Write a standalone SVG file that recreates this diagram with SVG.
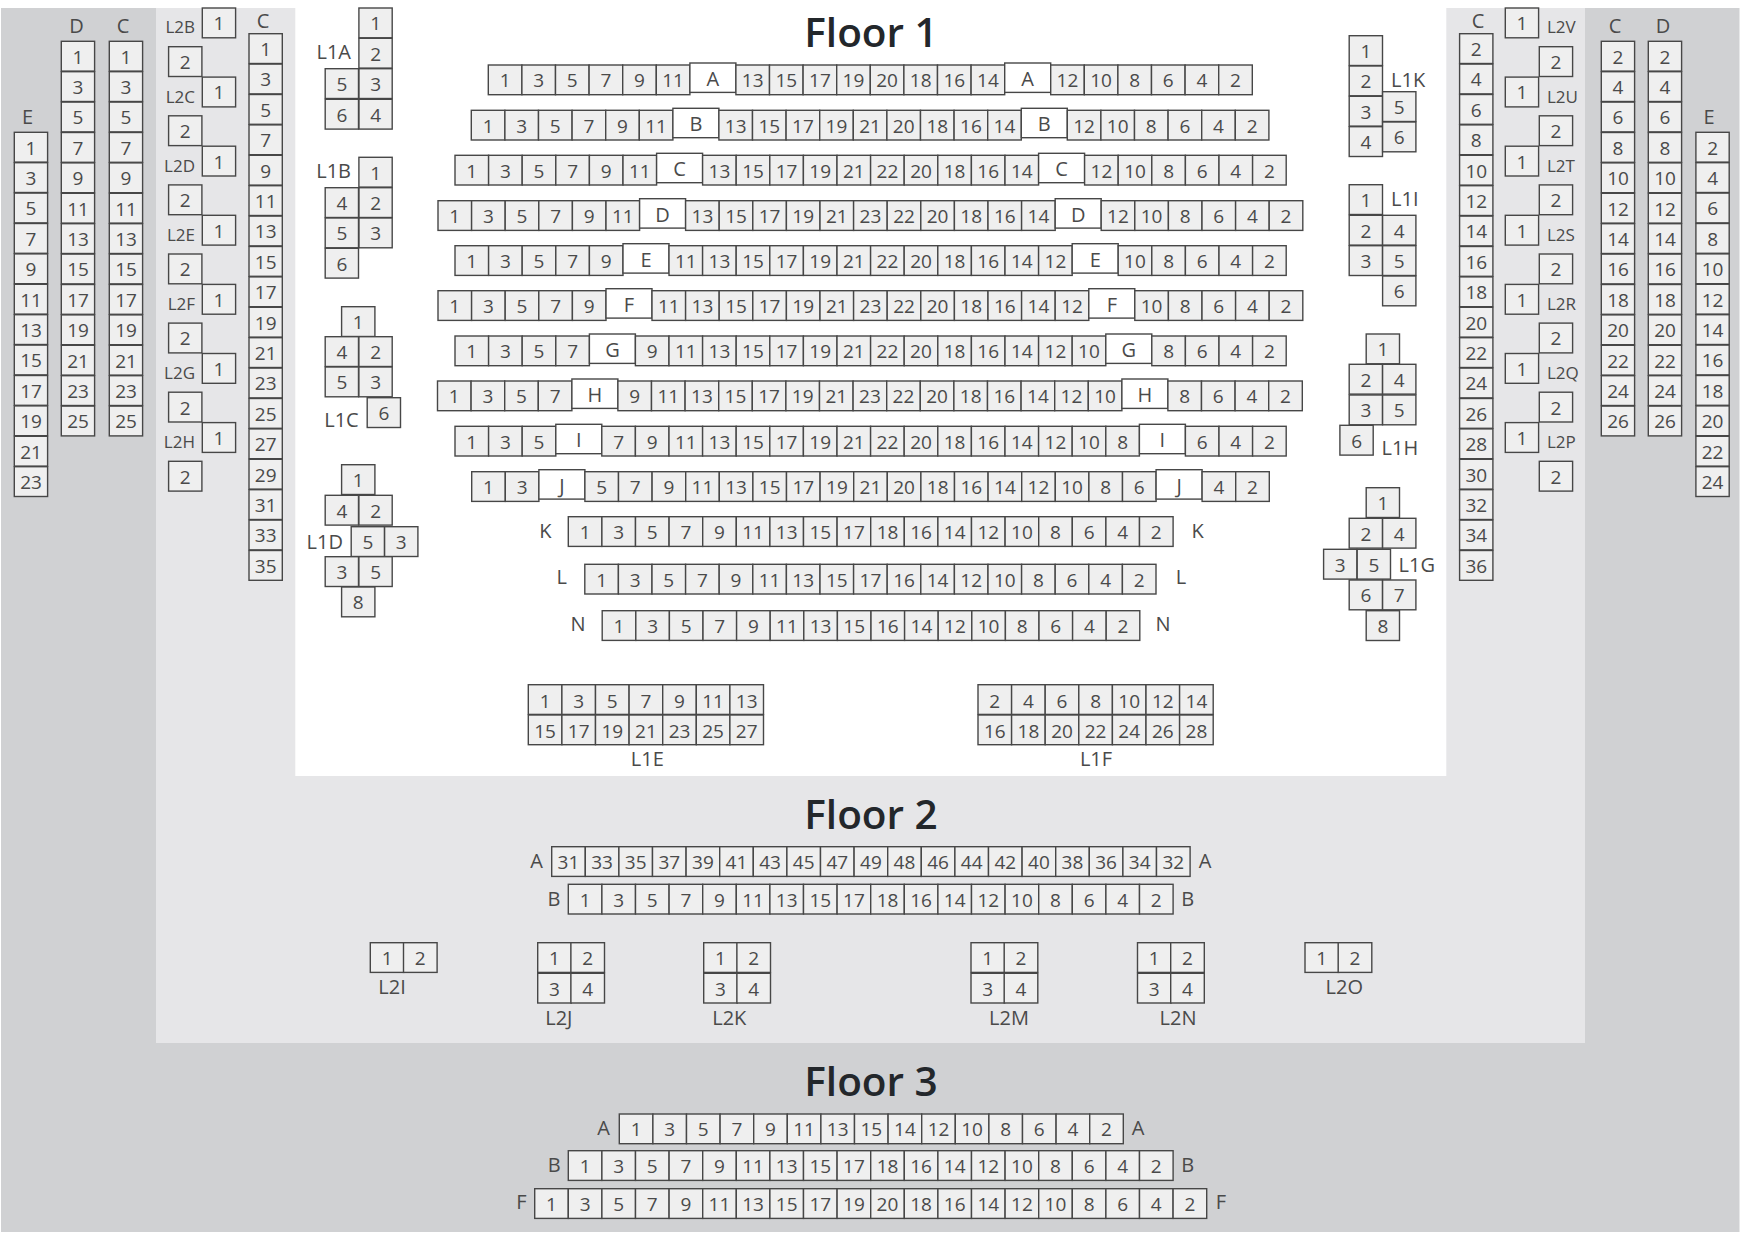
<svg xmlns="http://www.w3.org/2000/svg" width="1740" height="1234" viewBox="0 0 1740 1234">
<style>
text{font-family:"Open Sans","Noto Sans",sans-serif;font-size:19px;fill:#4a4a4a;text-anchor:middle}
.seat{fill:#efefef;stroke:#474747;stroke-width:1.4}
.m{fill:#fff;stroke:#474747;stroke-width:1.4}
.r text{transform:translateY(-1px)}
.r text.l,.r text.a{transform:none}
text.l{font-size:20px}
text.a{text-anchor:start;font-size:20px}
text.e{text-anchor:end;font-size:20px}
text.t{font-size:17px}
text.f{font-size:40.5px;font-weight:600;fill:#23272b}
</style>
<defs>
<rect id="s" class="seat" x="-16.8" y="-23.3" width="33.6" height="29.7"/>
<rect id="v" class="seat" x="-16.7" y="-22.3" width="33.3" height="29.8"/>
</defs>
<rect width="1740" height="1234" fill="#fff"/>
<rect x="1" y="8" width="1738.5" height="1224" fill="#d0d1d3"/>
<rect x="156" y="8" width="1429" height="1035" fill="#e6e6e8"/>
<rect x="295.3" y="0" width="1151" height="776" fill="#fff"/>
<text class="f" x="871" y="47">Floor 1</text>
<text class="f" x="871" y="829">Floor 2</text>
<text class="f" x="871" y="1096">Floor 3</text>

<g id="f1-row-A" class="r" transform="translate(488.3,88.3)"><use href="#s" x="16.8"/><text x="16.8">1</text><use href="#s" x="50.4"/><text x="50.4">3</text><use href="#s" x="84"/><text x="84">5</text><use href="#s" x="117.6"/><text x="117.6">7</text><use href="#s" x="151.2"/><text x="151.2">9</text><use href="#s" x="184.8"/><text x="184.8">11</text><rect class="m" x="201.6" y="-25.3" width="46" height="29.4"/><text class="l" x="224.6" y="-2.3">A</text>
<g transform="translate(247.6)"><use href="#s" x="16.8"/><text x="16.8">13</text><use href="#s" x="50.4"/><text x="50.4">15</text><use href="#s" x="84"/><text x="84">17</text><use href="#s" x="117.6"/><text x="117.6">19</text><use href="#s" x="151.2"/><text x="151.2">20</text><use href="#s" x="184.8"/><text x="184.8">18</text><use href="#s" x="218.4"/><text x="218.4">16</text><use href="#s" x="252"/><text x="252">14</text><rect class="m" x="268.8" y="-25.3" width="46" height="29.4"/><text class="l" x="291.8" y="-2.3">A</text>
<g transform="translate(314.8)"><use href="#s" x="16.8"/><text x="16.8">12</text><use href="#s" x="50.4"/><text x="50.4">10</text><use href="#s" x="84"/><text x="84">8</text><use href="#s" x="117.6"/><text x="117.6">6</text><use href="#s" x="151.2"/><text x="151.2">4</text><use href="#s" x="184.8"/><text x="184.8">2</text></g></g></g>

<g id="f1-row-B" class="r" transform="translate(471.3,133.6)"><use href="#s" x="16.8"/><text x="16.8">1</text><use href="#s" x="50.4"/><text x="50.4">3</text><use href="#s" x="84"/><text x="84">5</text><use href="#s" x="117.6"/><text x="117.6">7</text><use href="#s" x="151.2"/><text x="151.2">9</text><use href="#s" x="184.8"/><text x="184.8">11</text><rect class="m" x="201.6" y="-25.3" width="46" height="29.4"/><text class="l" x="224.6" y="-2.3">B</text>
<g transform="translate(247.6)"><use href="#s" x="16.8"/><text x="16.8">13</text><use href="#s" x="50.4"/><text x="50.4">15</text><use href="#s" x="84"/><text x="84">17</text><use href="#s" x="117.6"/><text x="117.6">19</text><use href="#s" x="151.2"/><text x="151.2">21</text><use href="#s" x="184.8"/><text x="184.8">20</text><use href="#s" x="218.4"/><text x="218.4">18</text><use href="#s" x="252"/><text x="252">16</text><use href="#s" x="285.6"/><text x="285.6">14</text><rect class="m" x="302.4" y="-25.3" width="46" height="29.4"/><text class="l" x="325.4" y="-2.3">B</text>
<g transform="translate(348.4)"><use href="#s" x="16.8"/><text x="16.8">12</text><use href="#s" x="50.4"/><text x="50.4">10</text><use href="#s" x="84"/><text x="84">8</text><use href="#s" x="117.6"/><text x="117.6">6</text><use href="#s" x="151.2"/><text x="151.2">4</text><use href="#s" x="184.8"/><text x="184.8">2</text></g></g></g>

<g id="f1-row-C" class="r" transform="translate(455,178.6)"><use href="#s" x="16.8"/><text x="16.8">1</text><use href="#s" x="50.4"/><text x="50.4">3</text><use href="#s" x="84"/><text x="84">5</text><use href="#s" x="117.6"/><text x="117.6">7</text><use href="#s" x="151.2"/><text x="151.2">9</text><use href="#s" x="184.8"/><text x="184.8">11</text><rect class="m" x="201.6" y="-25.3" width="46" height="29.4"/><text class="l" x="224.6" y="-2.3">C</text>
<g transform="translate(247.6)"><use href="#s" x="16.8"/><text x="16.8">13</text><use href="#s" x="50.4"/><text x="50.4">15</text><use href="#s" x="84"/><text x="84">17</text><use href="#s" x="117.6"/><text x="117.6">19</text><use href="#s" x="151.2"/><text x="151.2">21</text><use href="#s" x="184.8"/><text x="184.8">22</text><use href="#s" x="218.4"/><text x="218.4">20</text><use href="#s" x="252"/><text x="252">18</text><use href="#s" x="285.6"/><text x="285.6">16</text><use href="#s" x="319.2"/><text x="319.2">14</text><rect class="m" x="336" y="-25.3" width="46" height="29.4"/><text class="l" x="359" y="-2.3">C</text>
<g transform="translate(382)"><use href="#s" x="16.8"/><text x="16.8">12</text><use href="#s" x="50.4"/><text x="50.4">10</text><use href="#s" x="84"/><text x="84">8</text><use href="#s" x="117.6"/><text x="117.6">6</text><use href="#s" x="151.2"/><text x="151.2">4</text><use href="#s" x="184.8"/><text x="184.8">2</text></g></g></g>

<g id="f1-row-D" class="r" transform="translate(438,224)"><use href="#s" x="16.8"/><text x="16.8">1</text><use href="#s" x="50.4"/><text x="50.4">3</text><use href="#s" x="84"/><text x="84">5</text><use href="#s" x="117.6"/><text x="117.6">7</text><use href="#s" x="151.2"/><text x="151.2">9</text><use href="#s" x="184.8"/><text x="184.8">11</text><rect class="m" x="201.6" y="-25.3" width="46" height="29.4"/><text class="l" x="224.6" y="-2.3">D</text>
<g transform="translate(247.6)"><use href="#s" x="16.8"/><text x="16.8">13</text><use href="#s" x="50.4"/><text x="50.4">15</text><use href="#s" x="84"/><text x="84">17</text><use href="#s" x="117.6"/><text x="117.6">19</text><use href="#s" x="151.2"/><text x="151.2">21</text><use href="#s" x="184.8"/><text x="184.8">23</text><use href="#s" x="218.4"/><text x="218.4">22</text><use href="#s" x="252"/><text x="252">20</text><use href="#s" x="285.6"/><text x="285.6">18</text><use href="#s" x="319.2"/><text x="319.2">16</text><use href="#s" x="352.8"/><text x="352.8">14</text><rect class="m" x="369.6" y="-25.3" width="46" height="29.4"/><text class="l" x="392.6" y="-2.3">D</text>
<g transform="translate(415.6)"><use href="#s" x="16.8"/><text x="16.8">12</text><use href="#s" x="50.4"/><text x="50.4">10</text><use href="#s" x="84"/><text x="84">8</text><use href="#s" x="117.6"/><text x="117.6">6</text><use href="#s" x="151.2"/><text x="151.2">4</text><use href="#s" x="184.8"/><text x="184.8">2</text></g></g></g>

<g id="f1-row-E" class="r" transform="translate(455,269)"><use href="#s" x="16.8"/><text x="16.8">1</text><use href="#s" x="50.4"/><text x="50.4">3</text><use href="#s" x="84"/><text x="84">5</text><use href="#s" x="117.6"/><text x="117.6">7</text><use href="#s" x="151.2"/><text x="151.2">9</text><rect class="m" x="168" y="-25.3" width="46" height="29.4"/><text class="l" x="191" y="-2.3">E</text>
<g transform="translate(214)"><use href="#s" x="16.8"/><text x="16.8">11</text><use href="#s" x="50.4"/><text x="50.4">13</text><use href="#s" x="84"/><text x="84">15</text><use href="#s" x="117.6"/><text x="117.6">17</text><use href="#s" x="151.2"/><text x="151.2">19</text><use href="#s" x="184.8"/><text x="184.8">21</text><use href="#s" x="218.4"/><text x="218.4">22</text><use href="#s" x="252"/><text x="252">20</text><use href="#s" x="285.6"/><text x="285.6">18</text><use href="#s" x="319.2"/><text x="319.2">16</text><use href="#s" x="352.8"/><text x="352.8">14</text><use href="#s" x="386.4"/><text x="386.4">12</text><rect class="m" x="403.2" y="-25.3" width="46" height="29.4"/><text class="l" x="426.2" y="-2.3">E</text>
<g transform="translate(449.2)"><use href="#s" x="16.8"/><text x="16.8">10</text><use href="#s" x="50.4"/><text x="50.4">8</text><use href="#s" x="84"/><text x="84">6</text><use href="#s" x="117.6"/><text x="117.6">4</text><use href="#s" x="151.2"/><text x="151.2">2</text></g></g></g>

<g id="f1-row-F" class="r" transform="translate(438,314)"><use href="#s" x="16.8"/><text x="16.8">1</text><use href="#s" x="50.4"/><text x="50.4">3</text><use href="#s" x="84"/><text x="84">5</text><use href="#s" x="117.6"/><text x="117.6">7</text><use href="#s" x="151.2"/><text x="151.2">9</text><rect class="m" x="168" y="-25.3" width="46" height="29.4"/><text class="l" x="191" y="-2.3">F</text>
<g transform="translate(214)"><use href="#s" x="16.8"/><text x="16.8">11</text><use href="#s" x="50.4"/><text x="50.4">13</text><use href="#s" x="84"/><text x="84">15</text><use href="#s" x="117.6"/><text x="117.6">17</text><use href="#s" x="151.2"/><text x="151.2">19</text><use href="#s" x="184.8"/><text x="184.8">21</text><use href="#s" x="218.4"/><text x="218.4">23</text><use href="#s" x="252"/><text x="252">22</text><use href="#s" x="285.6"/><text x="285.6">20</text><use href="#s" x="319.2"/><text x="319.2">18</text><use href="#s" x="352.8"/><text x="352.8">16</text><use href="#s" x="386.4"/><text x="386.4">14</text><use href="#s" x="420"/><text x="420">12</text><rect class="m" x="436.8" y="-25.3" width="46" height="29.4"/><text class="l" x="459.8" y="-2.3">F</text>
<g transform="translate(482.8)"><use href="#s" x="16.8"/><text x="16.8">10</text><use href="#s" x="50.4"/><text x="50.4">8</text><use href="#s" x="84"/><text x="84">6</text><use href="#s" x="117.6"/><text x="117.6">4</text><use href="#s" x="151.2"/><text x="151.2">2</text></g></g></g>

<g id="f1-row-G" class="r" transform="translate(455,359.3)"><use href="#s" x="16.8"/><text x="16.8">1</text><use href="#s" x="50.4"/><text x="50.4">3</text><use href="#s" x="84"/><text x="84">5</text><use href="#s" x="117.6"/><text x="117.6">7</text><rect class="m" x="134.4" y="-25.3" width="46" height="29.4"/><text class="l" x="157.4" y="-2.3">G</text>
<g transform="translate(180.4)"><use href="#s" x="16.8"/><text x="16.8">9</text><use href="#s" x="50.4"/><text x="50.4">11</text><use href="#s" x="84"/><text x="84">13</text><use href="#s" x="117.6"/><text x="117.6">15</text><use href="#s" x="151.2"/><text x="151.2">17</text><use href="#s" x="184.8"/><text x="184.8">19</text><use href="#s" x="218.4"/><text x="218.4">21</text><use href="#s" x="252"/><text x="252">22</text><use href="#s" x="285.6"/><text x="285.6">20</text><use href="#s" x="319.2"/><text x="319.2">18</text><use href="#s" x="352.8"/><text x="352.8">16</text><use href="#s" x="386.4"/><text x="386.4">14</text><use href="#s" x="420"/><text x="420">12</text><use href="#s" x="453.6"/><text x="453.6">10</text><rect class="m" x="470.4" y="-25.3" width="46" height="29.4"/><text class="l" x="493.4" y="-2.3">G</text>
<g transform="translate(516.4)"><use href="#s" x="16.8"/><text x="16.8">8</text><use href="#s" x="50.4"/><text x="50.4">6</text><use href="#s" x="84"/><text x="84">4</text><use href="#s" x="117.6"/><text x="117.6">2</text></g></g></g>

<g id="f1-row-H" class="r" transform="translate(437.5,404.3)"><use href="#s" x="16.8"/><text x="16.8">1</text><use href="#s" x="50.4"/><text x="50.4">3</text><use href="#s" x="84"/><text x="84">5</text><use href="#s" x="117.6"/><text x="117.6">7</text><rect class="m" x="134.4" y="-25.3" width="46" height="29.4"/><text class="l" x="157.4" y="-2.3">H</text>
<g transform="translate(180.4)"><use href="#s" x="16.8"/><text x="16.8">9</text><use href="#s" x="50.4"/><text x="50.4">11</text><use href="#s" x="84"/><text x="84">13</text><use href="#s" x="117.6"/><text x="117.6">15</text><use href="#s" x="151.2"/><text x="151.2">17</text><use href="#s" x="184.8"/><text x="184.8">19</text><use href="#s" x="218.4"/><text x="218.4">21</text><use href="#s" x="252"/><text x="252">23</text><use href="#s" x="285.6"/><text x="285.6">22</text><use href="#s" x="319.2"/><text x="319.2">20</text><use href="#s" x="352.8"/><text x="352.8">18</text><use href="#s" x="386.4"/><text x="386.4">16</text><use href="#s" x="420"/><text x="420">14</text><use href="#s" x="453.6"/><text x="453.6">12</text><use href="#s" x="487.2"/><text x="487.2">10</text><rect class="m" x="504" y="-25.3" width="46" height="29.4"/><text class="l" x="527" y="-2.3">H</text>
<g transform="translate(550)"><use href="#s" x="16.8"/><text x="16.8">8</text><use href="#s" x="50.4"/><text x="50.4">6</text><use href="#s" x="84"/><text x="84">4</text><use href="#s" x="117.6"/><text x="117.6">2</text></g></g></g>

<g id="f1-row-I" class="r" transform="translate(455,449.6)"><use href="#s" x="16.8"/><text x="16.8">1</text><use href="#s" x="50.4"/><text x="50.4">3</text><use href="#s" x="84"/><text x="84">5</text><rect class="m" x="100.8" y="-25.3" width="46" height="29.4"/><text class="l" x="123.8" y="-2.3">I</text>
<g transform="translate(146.8)"><use href="#s" x="16.8"/><text x="16.8">7</text><use href="#s" x="50.4"/><text x="50.4">9</text><use href="#s" x="84"/><text x="84">11</text><use href="#s" x="117.6"/><text x="117.6">13</text><use href="#s" x="151.2"/><text x="151.2">15</text><use href="#s" x="184.8"/><text x="184.8">17</text><use href="#s" x="218.4"/><text x="218.4">19</text><use href="#s" x="252"/><text x="252">21</text><use href="#s" x="285.6"/><text x="285.6">22</text><use href="#s" x="319.2"/><text x="319.2">20</text><use href="#s" x="352.8"/><text x="352.8">18</text><use href="#s" x="386.4"/><text x="386.4">16</text><use href="#s" x="420"/><text x="420">14</text><use href="#s" x="453.6"/><text x="453.6">12</text><use href="#s" x="487.2"/><text x="487.2">10</text><use href="#s" x="520.8"/><text x="520.8">8</text><rect class="m" x="537.6" y="-25.3" width="46" height="29.4"/><text class="l" x="560.6" y="-2.3">I</text>
<g transform="translate(583.6)"><use href="#s" x="16.8"/><text x="16.8">6</text><use href="#s" x="50.4"/><text x="50.4">4</text><use href="#s" x="84"/><text x="84">2</text></g></g></g>

<g id="f1-row-J" class="r" transform="translate(471.7,495)"><use href="#s" x="16.8"/><text x="16.8">1</text><use href="#s" x="50.4"/><text x="50.4">3</text><rect class="m" x="67.2" y="-25.3" width="46" height="29.4"/><text class="l" x="90.2" y="-2.3">J</text>
<g transform="translate(113.2)"><use href="#s" x="16.8"/><text x="16.8">5</text><use href="#s" x="50.4"/><text x="50.4">7</text><use href="#s" x="84"/><text x="84">9</text><use href="#s" x="117.6"/><text x="117.6">11</text><use href="#s" x="151.2"/><text x="151.2">13</text><use href="#s" x="184.8"/><text x="184.8">15</text><use href="#s" x="218.4"/><text x="218.4">17</text><use href="#s" x="252"/><text x="252">19</text><use href="#s" x="285.6"/><text x="285.6">21</text><use href="#s" x="319.2"/><text x="319.2">20</text><use href="#s" x="352.8"/><text x="352.8">18</text><use href="#s" x="386.4"/><text x="386.4">16</text><use href="#s" x="420"/><text x="420">14</text><use href="#s" x="453.6"/><text x="453.6">12</text><use href="#s" x="487.2"/><text x="487.2">10</text><use href="#s" x="520.8"/><text x="520.8">8</text><use href="#s" x="554.4"/><text x="554.4">6</text><rect class="m" x="571.2" y="-25.3" width="46" height="29.4"/><text class="l" x="594.2" y="-2.3">J</text>
<g transform="translate(617.2)"><use href="#s" x="16.8"/><text x="16.8">4</text><use href="#s" x="50.4"/><text x="50.4">2</text></g></g></g>

<g id="f1-row-K" class="r" transform="translate(568.3,540)"><use href="#s" x="16.8"/><text x="16.8">1</text><use href="#s" x="50.4"/><text x="50.4">3</text><use href="#s" x="84"/><text x="84">5</text><use href="#s" x="117.6"/><text x="117.6">7</text><use href="#s" x="151.2"/><text x="151.2">9</text><use href="#s" x="184.8"/><text x="184.8">11</text><use href="#s" x="218.4"/><text x="218.4">13</text><use href="#s" x="252"/><text x="252">15</text><use href="#s" x="285.6"/><text x="285.6">17</text><use href="#s" x="319.2"/><text x="319.2">18</text><use href="#s" x="352.8"/><text x="352.8">16</text><use href="#s" x="386.4"/><text x="386.4">14</text><use href="#s" x="420"/><text x="420">12</text><use href="#s" x="453.6"/><text x="453.6">10</text><use href="#s" x="487.2"/><text x="487.2">8</text><use href="#s" x="520.8"/><text x="520.8">6</text><use href="#s" x="554.4"/><text x="554.4">4</text><use href="#s" x="588"/><text x="588">2</text></g>
<text class="l" x="545.3" y="538">K</text><text class="l" x="1197.7" y="538">K</text>

<g id="f1-row-L" class="r" transform="translate(584.8,587.6)"><use href="#s" x="16.8"/><text x="16.8">1</text><use href="#s" x="50.4"/><text x="50.4">3</text><use href="#s" x="84"/><text x="84">5</text><use href="#s" x="117.6"/><text x="117.6">7</text><use href="#s" x="151.2"/><text x="151.2">9</text><use href="#s" x="184.8"/><text x="184.8">11</text><use href="#s" x="218.4"/><text x="218.4">13</text><use href="#s" x="252"/><text x="252">15</text><use href="#s" x="285.6"/><text x="285.6">17</text><use href="#s" x="319.2"/><text x="319.2">16</text><use href="#s" x="352.8"/><text x="352.8">14</text><use href="#s" x="386.4"/><text x="386.4">12</text><use href="#s" x="420"/><text x="420">10</text><use href="#s" x="453.6"/><text x="453.6">8</text><use href="#s" x="487.2"/><text x="487.2">6</text><use href="#s" x="520.8"/><text x="520.8">4</text><use href="#s" x="554.4"/><text x="554.4">2</text></g>
<text class="l" x="561.7" y="584">L</text><text class="l" x="1181" y="584">L</text>

<g id="f1-row-N" class="r" transform="translate(602.2,634)"><use href="#s" x="16.8"/><text x="16.8">1</text><use href="#s" x="50.4"/><text x="50.4">3</text><use href="#s" x="84"/><text x="84">5</text><use href="#s" x="117.6"/><text x="117.6">7</text><use href="#s" x="151.2"/><text x="151.2">9</text><use href="#s" x="184.8"/><text x="184.8">11</text><use href="#s" x="218.4"/><text x="218.4">13</text><use href="#s" x="252"/><text x="252">15</text><use href="#s" x="285.6"/><text x="285.6">16</text><use href="#s" x="319.2"/><text x="319.2">14</text><use href="#s" x="352.8"/><text x="352.8">12</text><use href="#s" x="386.4"/><text x="386.4">10</text><use href="#s" x="420"/><text x="420">8</text><use href="#s" x="453.6"/><text x="453.6">6</text><use href="#s" x="487.2"/><text x="487.2">4</text><use href="#s" x="520.8"/><text x="520.8">2</text></g>
<text class="l" x="578" y="631">N</text><text class="l" x="1163" y="631">N</text>

<g id="L1E"><g transform="translate(528.3,708)"><use href="#s" x="16.8"/><text x="16.8">1</text><use href="#s" x="50.4"/><text x="50.4">3</text><use href="#s" x="84"/><text x="84">5</text><use href="#s" x="117.6"/><text x="117.6">7</text><use href="#s" x="151.2"/><text x="151.2">9</text><use href="#s" x="184.8"/><text x="184.8">11</text><use href="#s" x="218.4"/><text x="218.4">13</text></g>
<g transform="translate(528.3,738.3)"><use href="#s" x="16.8"/><text x="16.8">15</text><use href="#s" x="50.4"/><text x="50.4">17</text><use href="#s" x="84"/><text x="84">19</text><use href="#s" x="117.6"/><text x="117.6">21</text><use href="#s" x="151.2"/><text x="151.2">23</text><use href="#s" x="184.8"/><text x="184.8">25</text><use href="#s" x="218.4"/><text x="218.4">27</text></g>
<text class="l" x="647.3" y="766">L1E</text></g>
<g id="L1F"><g transform="translate(978,708)"><use href="#s" x="16.8"/><text x="16.8">2</text><use href="#s" x="50.4"/><text x="50.4">4</text><use href="#s" x="84"/><text x="84">6</text><use href="#s" x="117.6"/><text x="117.6">8</text><use href="#s" x="151.2"/><text x="151.2">10</text><use href="#s" x="184.8"/><text x="184.8">12</text><use href="#s" x="218.4"/><text x="218.4">14</text></g>
<g transform="translate(978,738.3)"><use href="#s" x="16.8"/><text x="16.8">16</text><use href="#s" x="50.4"/><text x="50.4">18</text><use href="#s" x="84"/><text x="84">20</text><use href="#s" x="117.6"/><text x="117.6">22</text><use href="#s" x="151.2"/><text x="151.2">24</text><use href="#s" x="184.8"/><text x="184.8">26</text><use href="#s" x="218.4"/><text x="218.4">28</text></g>
<text class="l" x="1096" y="766">L1F</text></g>

<g id="L3-E-left" transform="translate(31,154.6)"><text class="l" x="-3.5" y="-30.6">E</text><use href="#v"/><text>1</text><use href="#v" y="30.4"/><text y="30.4">3</text><use href="#v" y="60.8"/><text y="60.8">5</text><use href="#v" y="91.2"/><text y="91.2">7</text><use href="#v" y="121.6"/><text y="121.6">9</text><use href="#v" y="152"/><text y="152">11</text><use href="#v" y="182.4"/><text y="182.4">13</text><use href="#v" y="212.8"/><text y="212.8">15</text><use href="#v" y="243.2"/><text y="243.2">17</text><use href="#v" y="273.6"/><text y="273.6">19</text><use href="#v" y="304"/><text y="304">21</text><use href="#v" y="334.4"/><text y="334.4">23</text></g>
<g id="L3-D-left" transform="translate(78,63.6)"><text class="l" x="-1.5" y="-30.6">D</text><use href="#v"/><text>1</text><use href="#v" y="30.4"/><text y="30.4">3</text><use href="#v" y="60.8"/><text y="60.8">5</text><use href="#v" y="91.2"/><text y="91.2">7</text><use href="#v" y="121.6"/><text y="121.6">9</text><use href="#v" y="152"/><text y="152">11</text><use href="#v" y="182.4"/><text y="182.4">13</text><use href="#v" y="212.8"/><text y="212.8">15</text><use href="#v" y="243.2"/><text y="243.2">17</text><use href="#v" y="273.6"/><text y="273.6">19</text><use href="#v" y="304"/><text y="304">21</text><use href="#v" y="334.4"/><text y="334.4">23</text><use href="#v" y="364.8"/><text y="364.8">25</text></g>
<g id="L3-C-left" transform="translate(126,63.6)"><text class="l" x="-3" y="-30.6">C</text><use href="#v"/><text>1</text><use href="#v" y="30.4"/><text y="30.4">3</text><use href="#v" y="60.8"/><text y="60.8">5</text><use href="#v" y="91.2"/><text y="91.2">7</text><use href="#v" y="121.6"/><text y="121.6">9</text><use href="#v" y="152"/><text y="152">11</text><use href="#v" y="182.4"/><text y="182.4">13</text><use href="#v" y="212.8"/><text y="212.8">15</text><use href="#v" y="243.2"/><text y="243.2">17</text><use href="#v" y="273.6"/><text y="273.6">19</text><use href="#v" y="304"/><text y="304">21</text><use href="#v" y="334.4"/><text y="334.4">23</text><use href="#v" y="364.8"/><text y="364.8">25</text></g>
<g id="L2-C-left" transform="translate(265.7,56)"><text class="l" x="-2.7" y="-28">C</text><use href="#v"/><text>1</text><use href="#v" y="30.4"/><text y="30.4">3</text><use href="#v" y="60.8"/><text y="60.8">5</text><use href="#v" y="91.2"/><text y="91.2">7</text><use href="#v" y="121.6"/><text y="121.6">9</text><use href="#v" y="152"/><text y="152">11</text><use href="#v" y="182.4"/><text y="182.4">13</text><use href="#v" y="212.8"/><text y="212.8">15</text><use href="#v" y="243.2"/><text y="243.2">17</text><use href="#v" y="273.6"/><text y="273.6">19</text><use href="#v" y="304"/><text y="304">21</text><use href="#v" y="334.4"/><text y="334.4">23</text><use href="#v" y="364.8"/><text y="364.8">25</text><use href="#v" y="395.2"/><text y="395.2">27</text><use href="#v" y="425.6"/><text y="425.6">29</text><use href="#v" y="456"/><text y="456">31</text><use href="#v" y="486.4"/><text y="486.4">33</text><use href="#v" y="516.8"/><text y="516.8">35</text></g>
<g id="L2-C-right" transform="translate(1476.3,56)"><text class="l" x="1.7" y="-28">C</text><use href="#v"/><text>2</text><use href="#v" y="30.4"/><text y="30.4">4</text><use href="#v" y="60.8"/><text y="60.8">6</text><use href="#v" y="91.2"/><text y="91.2">8</text><use href="#v" y="121.6"/><text y="121.6">10</text><use href="#v" y="152"/><text y="152">12</text><use href="#v" y="182.4"/><text y="182.4">14</text><use href="#v" y="212.8"/><text y="212.8">16</text><use href="#v" y="243.2"/><text y="243.2">18</text><use href="#v" y="273.6"/><text y="273.6">20</text><use href="#v" y="304"/><text y="304">22</text><use href="#v" y="334.4"/><text y="334.4">24</text><use href="#v" y="364.8"/><text y="364.8">26</text><use href="#v" y="395.2"/><text y="395.2">28</text><use href="#v" y="425.6"/><text y="425.6">30</text><use href="#v" y="456"/><text y="456">32</text><use href="#v" y="486.4"/><text y="486.4">34</text><use href="#v" y="516.8"/><text y="516.8">36</text></g>
<g id="L3-C-right" transform="translate(1618,63.6)"><text class="l" x="-3" y="-30.6">C</text><use href="#v"/><text>2</text><use href="#v" y="30.4"/><text y="30.4">4</text><use href="#v" y="60.8"/><text y="60.8">6</text><use href="#v" y="91.2"/><text y="91.2">8</text><use href="#v" y="121.6"/><text y="121.6">10</text><use href="#v" y="152"/><text y="152">12</text><use href="#v" y="182.4"/><text y="182.4">14</text><use href="#v" y="212.8"/><text y="212.8">16</text><use href="#v" y="243.2"/><text y="243.2">18</text><use href="#v" y="273.6"/><text y="273.6">20</text><use href="#v" y="304"/><text y="304">22</text><use href="#v" y="334.4"/><text y="334.4">24</text><use href="#v" y="364.8"/><text y="364.8">26</text></g>
<g id="L3-D-right" transform="translate(1665,63.6)"><text class="l" x="-2" y="-30.6">D</text><use href="#v"/><text>2</text><use href="#v" y="30.4"/><text y="30.4">4</text><use href="#v" y="60.8"/><text y="60.8">6</text><use href="#v" y="91.2"/><text y="91.2">8</text><use href="#v" y="121.6"/><text y="121.6">10</text><use href="#v" y="152"/><text y="152">12</text><use href="#v" y="182.4"/><text y="182.4">14</text><use href="#v" y="212.8"/><text y="212.8">16</text><use href="#v" y="243.2"/><text y="243.2">18</text><use href="#v" y="273.6"/><text y="273.6">20</text><use href="#v" y="304"/><text y="304">22</text><use href="#v" y="334.4"/><text y="334.4">24</text><use href="#v" y="364.8"/><text y="364.8">26</text></g>
<g id="L3-E-right" transform="translate(1712.6,154.6)"><text class="l" x="-3.6" y="-30.6">E</text><use href="#v"/><text>2</text><use href="#v" y="30.4"/><text y="30.4">4</text><use href="#v" y="60.8"/><text y="60.8">6</text><use href="#v" y="91.2"/><text y="91.2">8</text><use href="#v" y="121.6"/><text y="121.6">10</text><use href="#v" y="152"/><text y="152">12</text><use href="#v" y="182.4"/><text y="182.4">14</text><use href="#v" y="212.8"/><text y="212.8">16</text><use href="#v" y="243.2"/><text y="243.2">18</text><use href="#v" y="273.6"/><text y="273.6">20</text><use href="#v" y="304"/><text y="304">22</text><use href="#v" y="334.4"/><text y="334.4">24</text></g>

<g id="L2-left-boxes">
<use href="#v" x="219" y="30.3"/><text x="219" y="30.3">1</text><use href="#v" x="185.3" y="69"/><text x="185.3" y="69">2</text>
<use href="#v" x="219" y="99.4"/><text x="219" y="99.4">1</text><use href="#v" x="185.3" y="138.1"/><text x="185.3" y="138.1">2</text>
<use href="#v" x="219" y="168.5"/><text x="219" y="168.5">1</text><use href="#v" x="185.3" y="207.2"/><text x="185.3" y="207.2">2</text>
<use href="#v" x="219" y="237.6"/><text x="219" y="237.6">1</text><use href="#v" x="185.3" y="276.3"/><text x="185.3" y="276.3">2</text>
<use href="#v" x="219" y="306.7"/><text x="219" y="306.7">1</text><use href="#v" x="185.3" y="345.4"/><text x="185.3" y="345.4">2</text>
<use href="#v" x="219" y="375.8"/><text x="219" y="375.8">1</text><use href="#v" x="185.3" y="414.5"/><text x="185.3" y="414.5">2</text>
<use href="#v" x="219" y="444.9"/><text x="219" y="444.9">1</text><use href="#v" x="185.3" y="483.6"/><text x="185.3" y="483.6">2</text>
<text class="e t" x="195" y="33">L2B</text><text class="e t" x="195" y="103">L2C</text><text class="e t" x="195" y="172">L2D</text><text class="e t" x="195" y="241">L2E</text><text class="e t" x="195" y="310">L2F</text><text class="e t" x="195" y="379">L2G</text><text class="e t" x="195" y="448">L2H</text>
</g>
<g id="L2-right-boxes">
<use href="#v" x="1522" y="30.3"/><text x="1522" y="30.3">1</text><use href="#v" x="1556" y="69"/><text x="1556" y="69">2</text>
<use href="#v" x="1522" y="99.4"/><text x="1522" y="99.4">1</text><use href="#v" x="1556" y="138.1"/><text x="1556" y="138.1">2</text>
<use href="#v" x="1522" y="168.5"/><text x="1522" y="168.5">1</text><use href="#v" x="1556" y="207.2"/><text x="1556" y="207.2">2</text>
<use href="#v" x="1522" y="237.6"/><text x="1522" y="237.6">1</text><use href="#v" x="1556" y="276.3"/><text x="1556" y="276.3">2</text>
<use href="#v" x="1522" y="306.7"/><text x="1522" y="306.7">1</text><use href="#v" x="1556" y="345.4"/><text x="1556" y="345.4">2</text>
<use href="#v" x="1522" y="375.8"/><text x="1522" y="375.8">1</text><use href="#v" x="1556" y="414.5"/><text x="1556" y="414.5">2</text>
<use href="#v" x="1522" y="444.9"/><text x="1522" y="444.9">1</text><use href="#v" x="1556" y="483.6"/><text x="1556" y="483.6">2</text>
<text class="a t" x="1547" y="33">L2V</text><text class="a t" x="1547" y="103">L2U</text><text class="a t" x="1547" y="172">L2T</text><text class="a t" x="1547" y="241">L2S</text><text class="a t" x="1547" y="310">L2R</text><text class="a t" x="1547" y="379">L2Q</text><text class="a t" x="1547" y="448">L2P</text>
</g>

<g id="L1A"><use href="#v" x="375.6" y="30.3"/><text x="375.6" y="30.3">1</text><use href="#v" x="375.6" y="60.6"/><text x="375.6" y="60.6">2</text><use href="#v" x="375.6" y="91"/><text x="375.6" y="91">3</text><use href="#v" x="375.6" y="121.6"/><text x="375.6" y="121.6">4</text><use href="#v" x="341.9" y="91"/><text x="341.9" y="91">5</text><use href="#v" x="341.9" y="121.6"/><text x="341.9" y="121.6">6</text><text class="e" x="351" y="59.3">L1A</text></g>
<g id="L1B"><use href="#v" x="375.6" y="179.6"/><text x="375.6" y="179.6">1</text><use href="#v" x="375.6" y="210"/><text x="375.6" y="210">2</text><use href="#v" x="375.6" y="240.3"/><text x="375.6" y="240.3">3</text><use href="#v" x="341.9" y="210"/><text x="341.9" y="210">4</text><use href="#v" x="341.9" y="240.3"/><text x="341.9" y="240.3">5</text><use href="#v" x="341.9" y="270.6"/><text x="341.9" y="270.6">6</text><text class="e" x="351" y="177.7">L1B</text></g>
<g id="L1C"><use href="#v" x="358.3" y="329"/><text x="358.3" y="329">1</text><use href="#v" x="341.9" y="359"/><text x="341.9" y="359">4</text><use href="#v" x="375.6" y="359"/><text x="375.6" y="359">2</text><use href="#v" x="341.9" y="389.3"/><text x="341.9" y="389.3">5</text><use href="#v" x="375.6" y="389.3"/><text x="375.6" y="389.3">3</text><use href="#v" x="383.9" y="420"/><text x="383.9" y="420">6</text><text class="e" x="358.7" y="427.3">L1C</text></g>
<g id="L1D"><use href="#v" x="358.3" y="487"/><text x="358.3" y="487">1</text><use href="#v" x="341.9" y="517.6"/><text x="341.9" y="517.6">4</text><use href="#v" x="375.6" y="517.6"/><text x="375.6" y="517.6">2</text><use href="#v" x="367.9" y="549"/><text x="367.9" y="549">5</text><use href="#v" x="401.3" y="549"/><text x="401.3" y="549">3</text><use href="#v" x="341.9" y="579"/><text x="341.9" y="579">3</text><use href="#v" x="375.6" y="579"/><text x="375.6" y="579">5</text><use href="#v" x="358.3" y="609.3"/><text x="358.3" y="609.3">8</text><text class="e" x="343" y="549">L1D</text></g>
<g id="L1K"><use href="#v" x="1365.9" y="58"/><text x="1365.9" y="58">1</text><use href="#v" x="1365.9" y="88.3"/><text x="1365.9" y="88.3">2</text><use href="#v" x="1365.9" y="118.6"/><text x="1365.9" y="118.6">3</text><use href="#v" x="1365.9" y="149"/><text x="1365.9" y="149">4</text><use href="#v" x="1399.3" y="114"/><text x="1399.3" y="114">5</text><use href="#v" x="1399.3" y="144.3"/><text x="1399.3" y="144.3">6</text><text class="a" x="1391" y="87.3">L1K</text></g>
<g id="L1I"><use href="#v" x="1365.9" y="207"/><text x="1365.9" y="207">1</text><use href="#v" x="1365.9" y="237.6"/><text x="1365.9" y="237.6">2</text><use href="#v" x="1365.9" y="268"/><text x="1365.9" y="268">3</text><use href="#v" x="1399.3" y="237.6"/><text x="1399.3" y="237.6">4</text><use href="#v" x="1399.3" y="268"/><text x="1399.3" y="268">5</text><use href="#v" x="1399.3" y="298.3"/><text x="1399.3" y="298.3">6</text><text class="a" x="1391" y="206">L1I</text></g>
<g id="L1H"><use href="#v" x="1382.9" y="356.3"/><text x="1382.9" y="356.3">1</text><use href="#v" x="1365.9" y="386.6"/><text x="1365.9" y="386.6">2</text><use href="#v" x="1399.3" y="386.6"/><text x="1399.3" y="386.6">4</text><use href="#v" x="1365.9" y="417.3"/><text x="1365.9" y="417.3">3</text><use href="#v" x="1399.3" y="417.3"/><text x="1399.3" y="417.3">5</text><use href="#v" x="1356.6" y="447.6"/><text x="1356.6" y="447.6">6</text><text class="a" x="1381.5" y="455">L1H</text></g>
<g id="L1G"><use href="#v" x="1382.9" y="510"/><text x="1382.9" y="510">1</text><use href="#v" x="1365.9" y="540.6"/><text x="1365.9" y="540.6">2</text><use href="#v" x="1399.3" y="540.6"/><text x="1399.3" y="540.6">4</text><use href="#v" x="1340.3" y="571.6"/><text x="1340.3" y="571.6">3</text><use href="#v" x="1373.9" y="571.6"/><text x="1373.9" y="571.6">5</text><use href="#v" x="1365.9" y="602.3"/><text x="1365.9" y="602.3">6</text><use href="#v" x="1399.3" y="602.3"/><text x="1399.3" y="602.3">7</text><use href="#v" x="1382.9" y="633"/><text x="1382.9" y="633">8</text><text class="a" x="1398.5" y="571.7">L1G</text></g>

<g id="f2-row-A" class="r" transform="translate(551.7,870)"><use href="#s" x="16.8"/><text x="16.8">31</text><use href="#s" x="50.4"/><text x="50.4">33</text><use href="#s" x="84"/><text x="84">35</text><use href="#s" x="117.6"/><text x="117.6">37</text><use href="#s" x="151.2"/><text x="151.2">39</text><use href="#s" x="184.8"/><text x="184.8">41</text><use href="#s" x="218.4"/><text x="218.4">43</text><use href="#s" x="252"/><text x="252">45</text><use href="#s" x="285.6"/><text x="285.6">47</text><use href="#s" x="319.2"/><text x="319.2">49</text><use href="#s" x="352.8"/><text x="352.8">48</text><use href="#s" x="386.4"/><text x="386.4">46</text><use href="#s" x="420"/><text x="420">44</text><use href="#s" x="453.6"/><text x="453.6">42</text><use href="#s" x="487.2"/><text x="487.2">40</text><use href="#s" x="520.8"/><text x="520.8">38</text><use href="#s" x="554.4"/><text x="554.4">36</text><use href="#s" x="588"/><text x="588">34</text><use href="#s" x="621.6"/><text x="621.6">32</text></g>
<text class="l" x="536.7" y="868">A</text><text class="l" x="1205" y="868">A</text>
<g id="f2-row-B" class="r" transform="translate(568.3,907.6)"><use href="#s" x="16.8"/><text x="16.8">1</text><use href="#s" x="50.4"/><text x="50.4">3</text><use href="#s" x="84"/><text x="84">5</text><use href="#s" x="117.6"/><text x="117.6">7</text><use href="#s" x="151.2"/><text x="151.2">9</text><use href="#s" x="184.8"/><text x="184.8">11</text><use href="#s" x="218.4"/><text x="218.4">13</text><use href="#s" x="252"/><text x="252">15</text><use href="#s" x="285.6"/><text x="285.6">17</text><use href="#s" x="319.2"/><text x="319.2">18</text><use href="#s" x="352.8"/><text x="352.8">16</text><use href="#s" x="386.4"/><text x="386.4">14</text><use href="#s" x="420"/><text x="420">12</text><use href="#s" x="453.6"/><text x="453.6">10</text><use href="#s" x="487.2"/><text x="487.2">8</text><use href="#s" x="520.8"/><text x="520.8">6</text><use href="#s" x="554.4"/><text x="554.4">4</text><use href="#s" x="588"/><text x="588">2</text></g>
<text class="l" x="554" y="906">B</text><text class="l" x="1187.7" y="906">B</text>

<g id="L2I" class="r" transform="translate(370.3,966)"><use href="#s" x="16.8"/><text x="16.8">1</text><use href="#s" x="50"/><text x="50">2</text><text class="a" x="8" y="28">L2I</text></g>
<g id="L2J" class="r" transform="translate(537.7,966)"><use href="#s" x="16.8"/><text x="16.8">1</text><use href="#s" x="50"/><text x="50">2</text><use href="#s" x="16.8" y="30.6"/><text x="16.8" y="30.6">3</text><use href="#s" x="50" y="30.6"/><text x="50" y="30.6">4</text><text class="a" x="7.5" y="58.5">L2J</text></g>
<g id="L2K" class="r" transform="translate(703.7,966)"><use href="#s" x="16.8"/><text x="16.8">1</text><use href="#s" x="50"/><text x="50">2</text><use href="#s" x="16.8" y="30.6"/><text x="16.8" y="30.6">3</text><use href="#s" x="50" y="30.6"/><text x="50" y="30.6">4</text><text class="a" x="8.5" y="58.5">L2K</text></g>
<g id="L2M" class="r" transform="translate(971,966)"><use href="#s" x="16.8"/><text x="16.8">1</text><use href="#s" x="50"/><text x="50">2</text><use href="#s" x="16.8" y="30.6"/><text x="16.8" y="30.6">3</text><use href="#s" x="50" y="30.6"/><text x="50" y="30.6">4</text><text class="a" x="18" y="58.5">L2M</text></g>
<g id="L2N" class="r" transform="translate(1137.5,966)"><use href="#s" x="16.8"/><text x="16.8">1</text><use href="#s" x="50"/><text x="50">2</text><use href="#s" x="16.8" y="30.6"/><text x="16.8" y="30.6">3</text><use href="#s" x="50" y="30.6"/><text x="50" y="30.6">4</text><text class="a" x="22" y="58.5">L2N</text></g>
<g id="L2O" class="r" transform="translate(1305,966)"><use href="#s" x="16.8"/><text x="16.8">1</text><use href="#s" x="50"/><text x="50">2</text><text class="a" x="20.5" y="28">L2O</text></g>

<g id="f3-row-A" class="r" transform="translate(619.3,1137.3)"><use href="#s" x="16.8"/><text x="16.8">1</text><use href="#s" x="50.4"/><text x="50.4">3</text><use href="#s" x="84"/><text x="84">5</text><use href="#s" x="117.6"/><text x="117.6">7</text><use href="#s" x="151.2"/><text x="151.2">9</text><use href="#s" x="184.8"/><text x="184.8">11</text><use href="#s" x="218.4"/><text x="218.4">13</text><use href="#s" x="252"/><text x="252">15</text><use href="#s" x="285.6"/><text x="285.6">14</text><use href="#s" x="319.2"/><text x="319.2">12</text><use href="#s" x="352.8"/><text x="352.8">10</text><use href="#s" x="386.4"/><text x="386.4">8</text><use href="#s" x="420"/><text x="420">6</text><use href="#s" x="453.6"/><text x="453.6">4</text><use href="#s" x="487.2"/><text x="487.2">2</text></g>
<text class="l" x="603.7" y="1135">A</text><text class="l" x="1138" y="1135">A</text>
<g id="f3-row-B" class="r" transform="translate(568.3,1174)"><use href="#s" x="16.8"/><text x="16.8">1</text><use href="#s" x="50.4"/><text x="50.4">3</text><use href="#s" x="84"/><text x="84">5</text><use href="#s" x="117.6"/><text x="117.6">7</text><use href="#s" x="151.2"/><text x="151.2">9</text><use href="#s" x="184.8"/><text x="184.8">11</text><use href="#s" x="218.4"/><text x="218.4">13</text><use href="#s" x="252"/><text x="252">15</text><use href="#s" x="285.6"/><text x="285.6">17</text><use href="#s" x="319.2"/><text x="319.2">18</text><use href="#s" x="352.8"/><text x="352.8">16</text><use href="#s" x="386.4"/><text x="386.4">14</text><use href="#s" x="420"/><text x="420">12</text><use href="#s" x="453.6"/><text x="453.6">10</text><use href="#s" x="487.2"/><text x="487.2">8</text><use href="#s" x="520.8"/><text x="520.8">6</text><use href="#s" x="554.4"/><text x="554.4">4</text><use href="#s" x="588"/><text x="588">2</text></g>
<text class="l" x="554.3" y="1171.7">B</text><text class="l" x="1187.7" y="1171.7">B</text>
<g id="f3-row-F" class="r" transform="translate(534.7,1212)"><use href="#s" x="16.8"/><text x="16.8">1</text><use href="#s" x="50.4"/><text x="50.4">3</text><use href="#s" x="84"/><text x="84">5</text><use href="#s" x="117.6"/><text x="117.6">7</text><use href="#s" x="151.2"/><text x="151.2">9</text><use href="#s" x="184.8"/><text x="184.8">11</text><use href="#s" x="218.4"/><text x="218.4">13</text><use href="#s" x="252"/><text x="252">15</text><use href="#s" x="285.6"/><text x="285.6">17</text><use href="#s" x="319.2"/><text x="319.2">19</text><use href="#s" x="352.8"/><text x="352.8">20</text><use href="#s" x="386.4"/><text x="386.4">18</text><use href="#s" x="420"/><text x="420">16</text><use href="#s" x="453.6"/><text x="453.6">14</text><use href="#s" x="487.2"/><text x="487.2">12</text><use href="#s" x="520.8"/><text x="520.8">10</text><use href="#s" x="554.4"/><text x="554.4">8</text><use href="#s" x="588"/><text x="588">6</text><use href="#s" x="621.6"/><text x="621.6">4</text><use href="#s" x="655.2"/><text x="655.2">2</text></g>
<text class="l" x="521.3" y="1209.3">F</text><text class="l" x="1221" y="1209.3">F</text>
</svg>
